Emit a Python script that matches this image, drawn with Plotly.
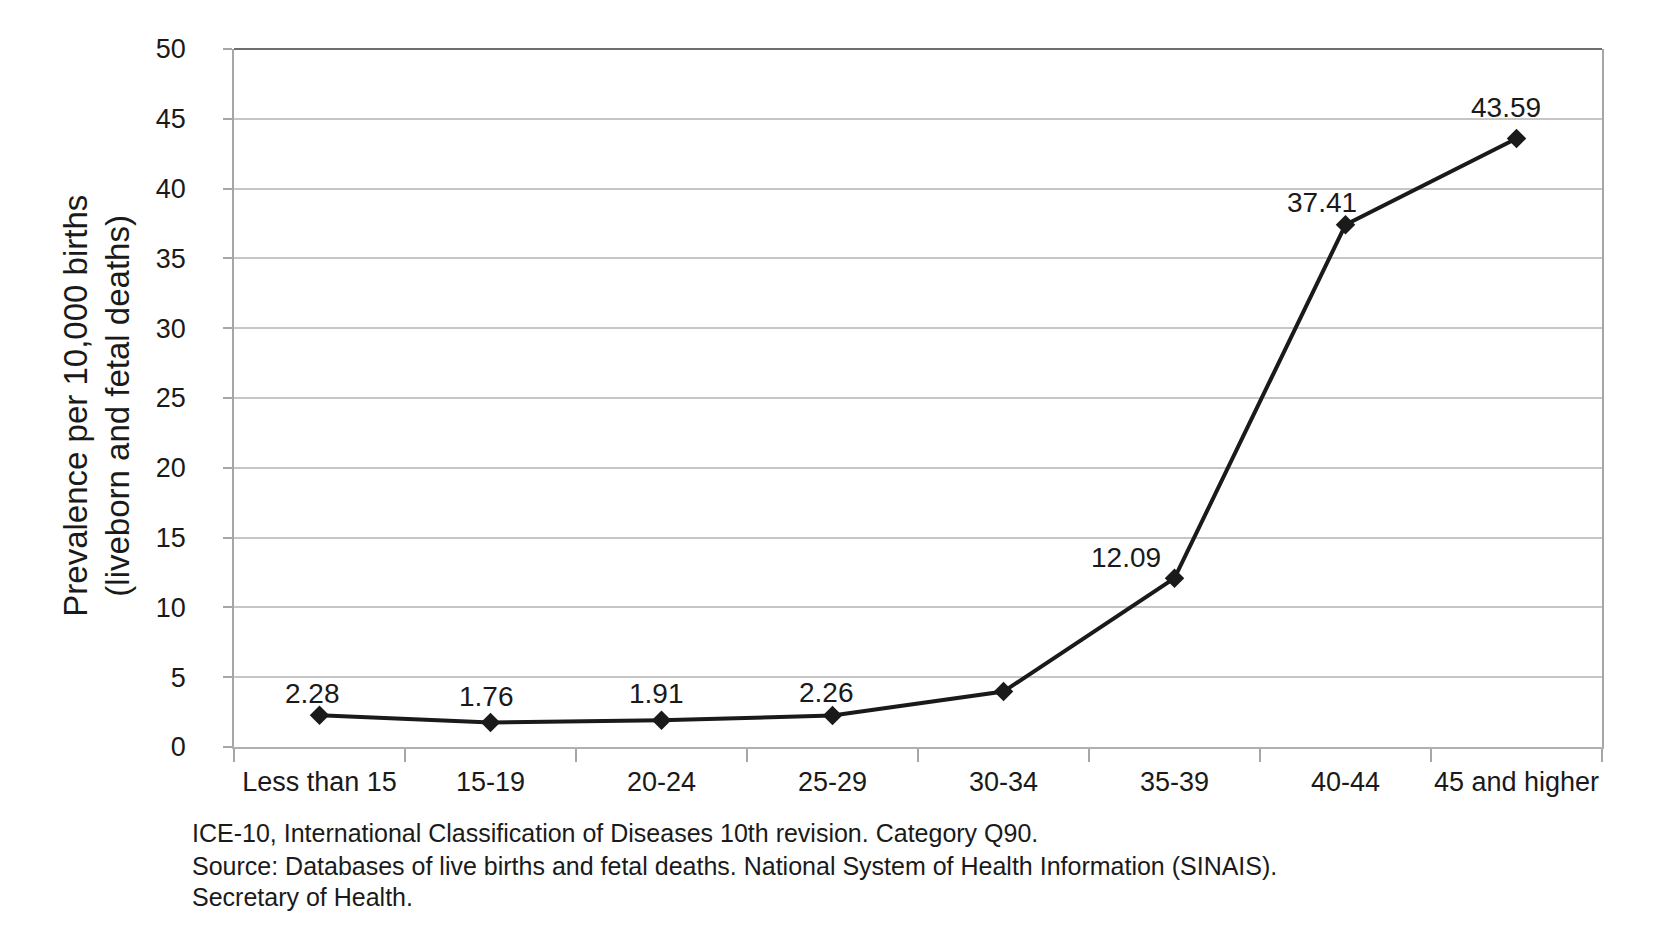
import plotly.graph_objects as go

categories = ["Less than 15", "15-19", "20-24", "25-29", "30-34", "35-39", "40-44", "45 and higher"]
prevalence = [2.28, 1.76, 1.91, 2.26, 3.97, 12.09, 37.41, 43.59]
show_label = [True, True, True, True, False, True, True, True]
y_ticks = [0, 5, 10, 15, 20, 25, 30, 35, 40, 45, 50]
y_title_lines = ["Prevalence per 10,000 births", "(liveborn and fetal deaths)"]
footnotes = [
    "ICE-10, International Classification of Diseases 10th revision. Category Q90.",
    "Source: Databases of live births and fetal deaths. National System of Health Information (SINAIS).",
    "Secretary of Health.",
]

# label offsets (pixels), style only
label_dx = [-7, -4, -5, -6, 0, -49, -24, -11]
label_dy = [22, 26, 27, 23, 0, 21, 22, 31]

FONT = "Liberation Sans, Arial, sans-serif"
TXT = "#1a1a1a"

fig = go.Figure()
fig.add_trace(go.Scatter(
    x=categories, y=prevalence, mode="lines+markers",
    line=dict(color="#1a1a1a", width=4),
    marker=dict(symbol="diamond", size=15, color="#1a1a1a"),
    hoverinfo="x+y", showlegend=False,
))

annotations = []
for c, v, s, dx, dy in zip(categories, prevalence, show_label, label_dx, label_dy):
    if s:
        annotations.append(dict(
            x=c, y=v, xref="x", yref="y", text=f"{v:.2f}", showarrow=False,
            xshift=dx, yshift=dy, font=dict(family=FONT, size=28, color=TXT),
        ))

title_x = [-0.1155, -0.0848]
for t, tx in zip(y_title_lines, title_x):
    annotations.append(dict(
        x=tx, y=0.489, xref="paper", yref="paper", text=t, showarrow=False,
        textangle=-90, xanchor="center", yanchor="middle",
        font=dict(family=FONT, size=33, color=TXT),
    ))

foot_y = [-0.1228, -0.1705, -0.2149]
for t, fy in zip(footnotes, foot_y):
    annotations.append(dict(
        x=-0.0322, y=fy, xref="paper", yref="paper", text=t, showarrow=False,
        xanchor="left", yanchor="middle", align="left",
        font=dict(family=FONT, size=25, color=TXT),
    ))

fig.update_layout(
    width=1662, height=937,
    margin=dict(l=226, r=68, t=41, b=198),
    paper_bgcolor="white", plot_bgcolor="white",
    font=dict(family=FONT, size=27, color=TXT),
    annotations=annotations,
    shapes=[dict(type="line", xref="paper", yref="paper", x0=0, x1=1, y0=1, y1=1,
                 line=dict(color="#6e6e6e", width=2))],
    xaxis=dict(
        type="category", tickson="boundaries", ticks="outside", ticklen=13,
        tickwidth=1.5, tickcolor="#a6a6a6", tickangle=0,
        showline=True, linecolor="#b0b0b0", linewidth=1.5, mirror=False,
        showgrid=False, tickfont=dict(family=FONT, size=27, color=TXT),
        ticklabelstandoff=10,
        range=[-0.5, len(categories) - 0.5],
    ),
    yaxis=dict(
        range=[0, 50], tickvals=y_ticks, ticks="outside", ticklen=9,
        tickwidth=1.5, tickcolor="#a6a6a6",
        showline=True, linecolor="#a6a6a6", linewidth=1.5, mirror=True,
        showgrid=True, gridcolor="#c6c6c6", gridwidth=1.8,
        zeroline=False, ticklabelstandoff=32,
        tickfont=dict(family=FONT, size=27, color=TXT),
    ),
)

fig.write_html("out.html")
